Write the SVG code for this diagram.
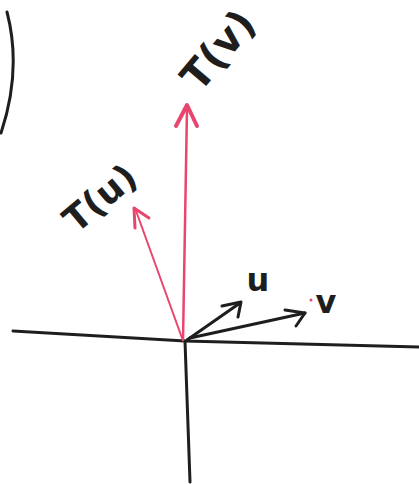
<svg xmlns="http://www.w3.org/2000/svg" width="419" height="484" viewBox="0 0 419 484">
<style>
.ink{fill:none;stroke:#1e1e1e;stroke-width:3;stroke-linecap:round;stroke-linejoin:round}
.red{fill:none;stroke:#e8466e;stroke-linecap:round;stroke-linejoin:round}
.lbl{font-family:"DejaVu Sans",sans-serif;fill:#1e1e1e;text-anchor:middle;dominant-baseline:central;font-weight:bold}
</style>
<rect width="419" height="484" fill="#fff"/>
<g id="arc"><path class="ink" d="M7 12 Q22 70 1 133"/></g>
<g id="axes">
<path class="ink" d="M13 331 L185 341 L419 347"/>
<path class="ink" d="M185 341 L190 482"/>
</g>
<g id="connectors">
<g id="Tv-vector">
<path class="red" stroke="#9a3056" stroke-width="2.5" d="M183 340 L187 108"/>
<path class="red" stroke-width="4" d="M176 126 L187 105 L197 126"/>
</g>
<g id="Tu-vector">
<path class="red" stroke-width="2" d="M182 338 L135 208"/>
<path class="red" stroke-width="3" d="M135 228 L134 208 L149 218"/>
</g>
<g id="u-vector">
<path class="ink" d="M187 340 L240 303"/>
<path class="ink" d="M222 306 L241 302 L238 317"/>
</g>
<g id="v-vector">
<path class="ink" d="M190 338 L305 313"/>
<path class="ink" d="M285 310 L305 313 L296 326"/>
</g>
</g>
<g id="label-Tv"><text class="lbl" font-size="40" transform="translate(218 50) rotate(-50)">T(v)</text></g>
<g id="label-Tu"><text class="lbl" font-size="36" transform="translate(100 198) rotate(-40)">T(u)</text></g>
<g id="label-u"><text class="lbl" font-size="32" x="258" y="280">u</text></g>
<g id="label-v"><text class="lbl" font-size="32" x="326" y="302">v</text></g>
<circle cx="311" cy="300" r="1.5" fill="#e8466e"/>
</svg>
